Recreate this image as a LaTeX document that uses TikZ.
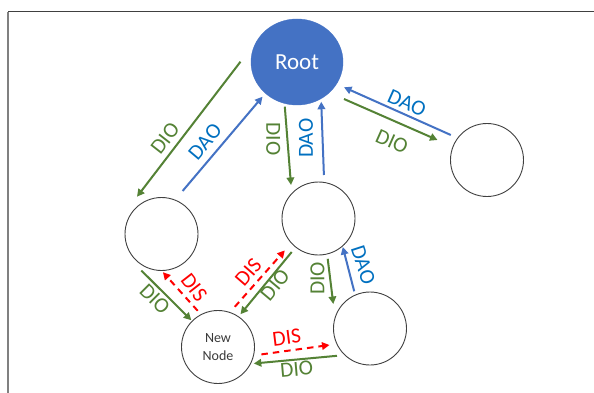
\documentclass[tikz,border=0pt]{standalone}
\usepackage{fontspec}
\setmainfont{Carlito}
\usetikzlibrary{arrows.meta,calc,shapes.geometric}

\definecolor{dioGreen}{HTML}{548235}
\definecolor{daoBlue}{HTML}{4472C4}
\definecolor{daoText}{HTML}{0070C0}
\definecolor{disRed}{HTML}{FF0000}
\definecolor{ringGray}{HTML}{404040}

\tikzset{
  peer/.style={circle, draw=ringGray, line width=0.9pt, minimum size=73pt, inner sep=0pt},
  msg/.style={line width=2pt, -{Triangle[length=7.5pt,width=7.5pt]}},
  dio/.style={msg, draw=dioGreen},
  dao/.style={msg, draw=daoBlue},
  dis/.style={msg, draw=disRed, dash pattern=on 6.5pt off 5pt},
  lblfont/.style={font=\fontsize{21.5}{21.5}\selectfont, inner sep=0pt},
  diolbl/.style={lblfont, text=dioGreen},
  daolbl/.style={lblfont, text=daoText},
  dislbl/.style={lblfont, text=disRed}
}

\begin{document}
\begin{tikzpicture}[x=1pt, y=-1pt]
  \useasboundingbox (0,0) rectangle (594,393);
  \fill[white] (0,0) rectangle (594,393);

  % frame edges
  \draw[color=ringGray, line width=1pt] (8,12) -- (594,12);
  \draw[color=gray, line width=1.4pt] (8,12) -- (8,393);

  % nodes of the network
  \node[ellipse, fill=daoBlue, draw=daoBlue, minimum width=92pt, minimum height=86pt,
        text=white, font=\fontsize{23}{23}\selectfont] (root) at (297,62) {Root};
  \node[peer] (L)  at (161.5,234) {};
  \node[peer] (M)  at (318.5,218.5) {};
  \node[peer] (R)  at (487,160) {};
  \node[peer] (BR) at (370,328.5) {};
  \node[peer, align=center, text=ringGray!90!black, font=\fontsize{14}{18}\selectfont] (NN) at (218,347) {New\\Node};

  % root <-> left
  \draw[dio] ($(root)+(-56.5,-0.3)$) -- ($(L)+(-24.5,-37.3)$);
  \draw[dao] ($(L)+(21.1,-43)$) -- ($(root)+(-34.5,34.7)$);
  % root <-> middle
  \draw[dio] ($(root)+(-12.2,44.7)$) -- ($(M)+(-27.5,-33.5)$);
  \draw[dao] ($(M)+(5.4,-43.5)$) -- ($(root)+(24.2,39.7)$);
  % root <-> right
  \draw[dao] ($(R)+(-36.2,-25)$) -- ($(root)+(47,25.3)$);
  \draw[dio] ($(root)+(47,37)$) -- ($(R)+(-49.5,-20)$);
  % left <-> new node
  \draw[dio] ($(L)+(-20.2,36.5)$) -- ($(NN)+(-26.7,-26.8)$);
  \draw[dis] ($(NN)+(-20.3,-36.2)$) -- ($(L)+(1.4,38.2)$);
  % middle <-> new node
  \draw[dis] ($(NN)+(16.8,-40.2)$) -- ($(M)+(-33.7,31.9)$);
  \draw[dio] ($(M)+(-26.8,33.5)$) -- ($(NN)+(22.5,-32.8)$);
  % middle <-> bottom right
  \draw[dio] ($(M)+(9.2,40.3)$) -- ($(BR)+(-36.7,-24.5)$);
  \draw[dao] ($(BR)+(-15.8,-37.2)$) -- ($(M)+(24.3,28.5)$);
  % new node <-> bottom right
  \draw[dis] ($(NN)+(43.4,7.4)$) -- ($(BR)+(-40.5,16.5)$);
  \draw[dio] ($(BR)+(-33,27.3)$) -- ($(NN)+(35.8,16.5)$);

  % message labels
  \node[diolbl, rotate=52] (l1)  at (165,138.3) {DIO};
  \node[daolbl, rotate=50] (l2)  at (205,141.7) {DAO};
  \node[diolbl, rotate=-90] (l3) at (273.3,139.2) {DIO};
  \node[daolbl, rotate=90] (l4)  at (306,138.3) {DAO};
  \node[daolbl, rotate=-24] (l5) at (407,103.3) {DAO};
  \node[diolbl, rotate=-24] (l6) at (392,141.7) {DIO};
  \node[diolbl, rotate=-45] (l7) at (155,299) {DIO};
  \node[dislbl, rotate=-52] (l8) at (194,287.5) {DIS};
  \node[dislbl, rotate=49] (l9)  at (248.3,272.5) {DIS};
  \node[diolbl, rotate=50] (l10) at (275,285) {DIO};
  \node[diolbl, rotate=90] (l11) at (317.5,278.3) {DIO};
  \node[daolbl, rotate=-72] (l12) at (363.3,265) {DAO};
  \node[dislbl, rotate=7] (l13)  at (286.7,337.5) {DIS};
  \node[diolbl, rotate=5] (l14)  at (296.7,369.2) {DIO};
\end{tikzpicture}
\end{document}
